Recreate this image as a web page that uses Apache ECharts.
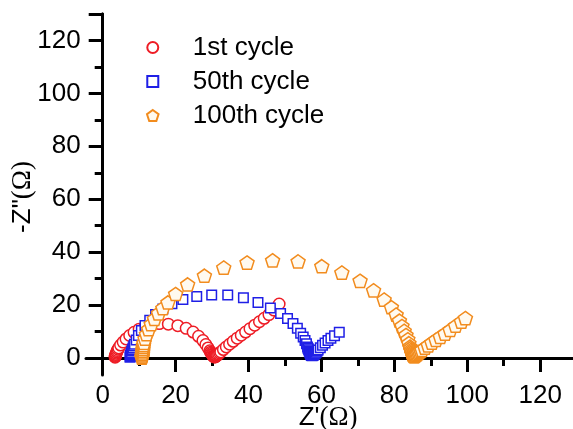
<!DOCTYPE html>
<html>
<head>
<meta charset="utf-8">
<script src="https://cdn.jsdelivr.net/npm/echarts@6/dist/echarts.min.js"></script>
<style>html,body{margin:0;padding:0;background:#fff}#c{width:573px;height:429px}</style>
</head>
<body>
<div id="c"></div>
<script>
const seriesNames = ['1st cycle', '50th cycle', '100th cycle'];
const xTickLabels = [0, 20, 40, 60, 80, 100, 120];
const yTickLabels = [0, 20, 40, 60, 80, 100, 120];

// [Z', -Z''] pairs
const cycle1 = [
  [3.4,0.3],[3.45,0.6],[3.5,0.9],[3.6,1.3],[3.7,1.8],[3.85,2.3],[4.0,2.8],[4.2,3.3],[4.4,3.8],[4.9,4.9],
  [5.6,6.0],[6.4,7.2],[7.4,8.5],[8.6,9.7],[10.0,10.9],
  [11.6,11.9],[13.4,12.6],[15.5,13.0],[18.0,12.8],[20.6,12.2],[22.9,11.2],[24.8,9.8],[26.3,8.2],[27.5,6.6],
  [28.3,5.1],[28.9,3.8],[29.4,2.7],[29.6,2.2],[29.8,1.8],[30.0,1.4],[30.1,1.1],[30.3,0.8],[30.4,0.6],
  [30.6,0.45],[30.7,0.4],[30.8,0.45],
  [30.9,0.5],[31.1,0.7],[31.3,0.9],[31.5,1.2],[31.8,1.5],[32.1,1.9],[32.4,2.3],[33.1,3.2],[33.9,4.2],
  [34.8,5.2],[35.8,6.3],[36.9,7.5],
  [38.0,8.6],[39.2,9.8],[40.4,11.1],[41.7,12.4],[43.0,13.7],[44.3,15.0],[45.6,16.4],[47.0,18.1],[48.4,20.4]
];
const cycle50 = [
  [7.5,0.3],[7.55,0.6],[7.6,0.9],[7.7,1.2],[7.8,1.5],[7.9,2.0],[8.0,2.6],[8.15,3.2],[8.3,3.8],[8.5,4.5],
  [8.7,5.2],[9.2,6.8],[9.8,8.5],[10.6,10.4],[11.6,12.3],[12.9,14.3],
  [14.5,16.4],[16.5,18.5],[19.0,20.5],[22.0,22.1],[25.8,23.2],[29.9,23.8],[34.3,23.8],[38.6,22.8],[42.6,21.0],
  [46.0,18.9],[48.8,16.8],[50.7,14.9],[52.2,13.0],[53.4,11.2],[54.3,9.4],[55.0,7.9],[55.5,6.6],[55.9,5.4],
  [56.2,4.2],[56.35,3.6],[56.5,3.1],[56.65,2.6],[56.8,2.2],[56.9,1.8],[57.0,1.4],[57.15,1.1],[57.3,0.9],
  [57.45,0.85],[57.6,0.9],
  [57.7,1.0],[57.9,1.2],[58.1,1.5],[58.35,1.8],[58.6,2.2],[58.85,2.6],[59.1,3.0],[59.7,3.9],[60.3,4.8],
  [61.0,5.7],[61.8,6.6],[62.6,7.5],[63.6,8.4],[64.9,9.7]
];
const cycle100 = [
  [10.75,0.2],[10.8,0.5],[10.85,1.0],[10.9,1.5],[10.95,2.1],[11.0,2.8],[11.05,3.5],[11.1,4.2],[11.2,4.9],
  [11.3,5.7],[11.6,7.3],[12.0,9.0],[12.6,10.9],[13.3,12.8],
  [14.2,14.8],[15.3,16.9],[16.5,18.9],[17.9,21.0],[20.0,24.2],[23.3,27.8],[27.9,31.1],[33.2,34.2],[39.6,36.1],
  [46.6,36.9],[53.6,36.5],[60.1,34.7],[65.6,32.3],[70.6,29.2],[74.3,25.6],[77.2,22.1],[79.2,19.2],[80.5,16.4],
  [81.4,14.1],[82.1,12.1],[82.7,10.3],[83.2,8.7],[83.7,7.1],[84.0,5.6],[84.3,4.3],[84.45,3.7],[84.6,3.1],
  [84.7,2.6],[84.8,2.1],[84.9,1.7],[85.0,1.3],[85.15,1.0],[85.3,0.8],[85.45,0.75],[85.6,0.85],
  [85.8,1.0],[86.05,1.3],[86.3,1.6],[86.6,1.95],[86.9,2.3],[87.25,2.7],[87.6,3.1],[88.4,3.9],[89.3,4.8],
  [90.3,5.8],[91.4,6.9],[92.6,8.0],[93.9,9.2],[95.3,10.6],[96.8,12.2],[98.4,13.8],[99.5,15.1]
];

const PENT = 'path://M0,-10L9.51,-3.09L5.88,8.09L-5.88,8.09L-9.51,-3.09Z';
const SQUARE = 'path://M-5,-5L5,-5L5,5L-5,5Z';
const FONT = '"Liberation Sans", Arial, sans-serif';
const SERIF = '"Liberation Serif", "Times New Roman", serif';

const chart = echarts.init(document.getElementById('c'), null, {renderer: 'canvas'});

const axisLineStyle = {color: '#000', width: 3};
const commonAxis = {
  min: 0, max: 130, interval: 20,
  axisLine: {show: true, onZero: false, lineStyle: axisLineStyle},
  axisTick: {show: true, inside: false, length: 14, lineStyle: {color: '#000', width: 3}},
  minorTick: {show: true, splitNumber: 2, length: 8, lineStyle: {color: '#000', width: 3}},
  splitLine: {show: false},
  minorSplitLine: {show: false},
  nameMoveOverlap: false
};
const gridBase = {containLabel: false, outerBoundsMode: 'none'};

chart.setOption({
  animation: false,
  backgroundColor: '#fff',
  grid: [
    Object.assign({left: 102.7, right: -3.6, top: 14, bottom: 71}, gridBase),
    Object.assign({left: 86, right: -3.6, top: 14, bottom: 71}, gridBase),
    Object.assign({left: 102.7, right: -3.6, top: 14, bottom: 54}, gridBase)
  ],
  legend: {
    orient: 'vertical',
    left: 141, top: 29.5,
    itemWidth: 70, itemHeight: 11, itemGap: 8,
    symbolKeepAspect: true,
    data: seriesNames,
    textStyle: {fontFamily: FONT, fontSize: 26, color: '#000'},
    selectedMode: false
  },
  xAxis: [
    Object.assign({}, commonAxis, {
      gridIndex: 0, type: 'value', position: 'bottom',
      axisLabel: {show: true, margin: 25, fontFamily: FONT, fontSize: 26, color: '#000',
        showMaxLabel: false,
        formatter: v => xTickLabels.indexOf(v) >= 0 ? String(v) : ''},
      name: '{a|Z\'}{b|(Ω)}',
      nameLocation: 'middle', nameGap: 46,
      nameTextStyle: {padding: [0, 23, 0, 0],
        rich: {a: {fontFamily: FONT, fontSize: 26, color: '#000'}, b: {fontFamily: SERIF, fontSize: 27, color: '#000'}}}
    }),
    {gridIndex: 1, type: 'value', min: 0, max: 1, position: 'bottom',
      axisLine: {show: true, onZero: false, lineStyle: axisLineStyle},
      axisTick: {show: false}, axisLabel: {show: false}, splitLine: {show: false}},
    {gridIndex: 2, type: 'value', min: 0, max: 1, show: false}
  ],
  yAxis: [
    Object.assign({}, commonAxis, {
      gridIndex: 0, type: 'value', position: 'left',
      axisLabel: {show: true, margin: 22, fontFamily: FONT, fontSize: 26, color: '#000',
        showMaxLabel: false,
        formatter: v => yTickLabels.indexOf(v) >= 0 ? String(v) : ''},
      name: '{a|-Z"}{b|(Ω)}',
      nameLocation: 'middle', nameGap: 66,
      nameTextStyle: {padding: [0, 22, 0, 0],
        rich: {a: {fontFamily: FONT, fontSize: 26, color: '#000'}, b: {fontFamily: SERIF, fontSize: 27, color: '#000'}}}
    }),
    {gridIndex: 1, type: 'value', min: 0, max: 1, show: false},
    {gridIndex: 2, type: 'value', min: 0, max: 1, position: 'left',
      axisLine: {show: true, onZero: false, lineStyle: axisLineStyle},
      axisTick: {show: false}, axisLabel: {show: false}, splitLine: {show: false}}
  ],
  series: [
    {name: seriesNames[0], type: 'scatter', xAxisIndex: 0, yAxisIndex: 0, data: cycle1,
      symbol: 'circle', symbolSize: 11.5,
      itemStyle: {color: '#ffffff', borderColor: '#ee1c25', borderWidth: 1.5, opacity: 1}},
    {name: seriesNames[1], type: 'scatter', xAxisIndex: 0, yAxisIndex: 0, data: cycle50,
      symbol: SQUARE, symbolSize: 9.5, symbolKeepAspect: true,
      itemStyle: {color: '#ffffff', borderColor: '#1f1fe6', borderWidth: 1.5, opacity: 1}},
    {name: seriesNames[2], type: 'scatter', xAxisIndex: 0, yAxisIndex: 0, data: cycle100,
      symbol: PENT, symbolSize: 14, symbolKeepAspect: true,
      itemStyle: {color: '#fffaf0', borderColor: '#f28c1e', borderWidth: 1.5, opacity: 1}}
  ]
});
</script>
</body>
</html>
